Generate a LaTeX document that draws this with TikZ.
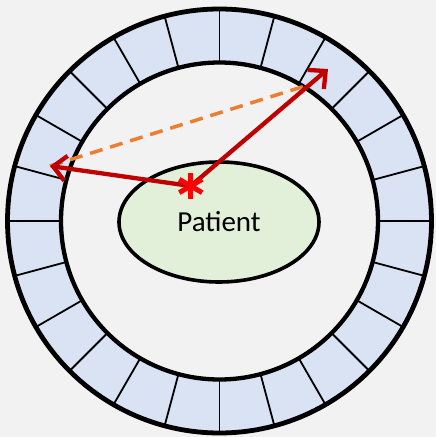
\documentclass[tikz,border=0pt]{standalone}
\usepackage{fontspec}
\setmainfont{Carlito}
\usepackage{xcolor}
\usepackage{tikz}
\usetikzlibrary{arrows.meta,shapes.geometric}
\definecolor{cinzafundo}{HTML}{F2F2F2}
\definecolor{azulanel}{HTML}{DAE3F3}
\definecolor{verdepaciente}{HTML}{E2F0D9}
\definecolor{vermelhoseta}{HTML}{C00000}
\definecolor{vermelhofonte}{HTML}{FF0000}
\definecolor{laranjalor}{HTML}{ED7D31}

\begin{document}
\begin{tikzpicture}[x=1pt,y=1pt, every node/.style={font=\fontsize{29}{31}\selectfont}]
    \fill[cinzafundo] (-219.5,-216) rectangle (216.5,221);
    \fill[azulanel,even odd rule] (0,0) circle (212) (0,0) circle (158.5);
    \foreach \ang in {0,15,...,345}
      \draw[line width=1.8pt] (\ang:158.5) -- (\ang:212);
    \draw[line width=4.8pt] (0,0) circle (212);
    \draw[line width=4.3pt] (0,0) circle (158.5);
    \node[draw,ellipse,line width=3.6pt,fill=verdepaciente,minimum width=200pt,minimum height=120pt] (patient) at (-0.5,-1) {Patient};
    \node[circle,inner sep=0pt,minimum size=26pt] (src) at (-28.8,35) {};
    \coordinate (detA) at (-169.5,55);
    \coordinate (detB) at (85.5,135);
    \coordinate (detC) at (108.5,152);
    \draw[laranjalor,line width=3.5pt,dash pattern=on 13pt off 8pt] (detA)--(detB);
    \draw[vermelhoseta,line width=4.3pt,-{Straight Barb[length=13pt,width=25pt]}] (src.center)--(detA);
    \draw[vermelhoseta,line width=4.3pt,-{Straight Barb[length=13pt,width=25pt]}] (src.center)--(detC);
    \foreach \ang [evaluate=\ang as \opp using int(\ang+180)] in {90,30,150}
      \draw[vermelhofonte,line width=5pt] (src.\ang) -- (src.\opp);
  \end{tikzpicture}
\end{document}
